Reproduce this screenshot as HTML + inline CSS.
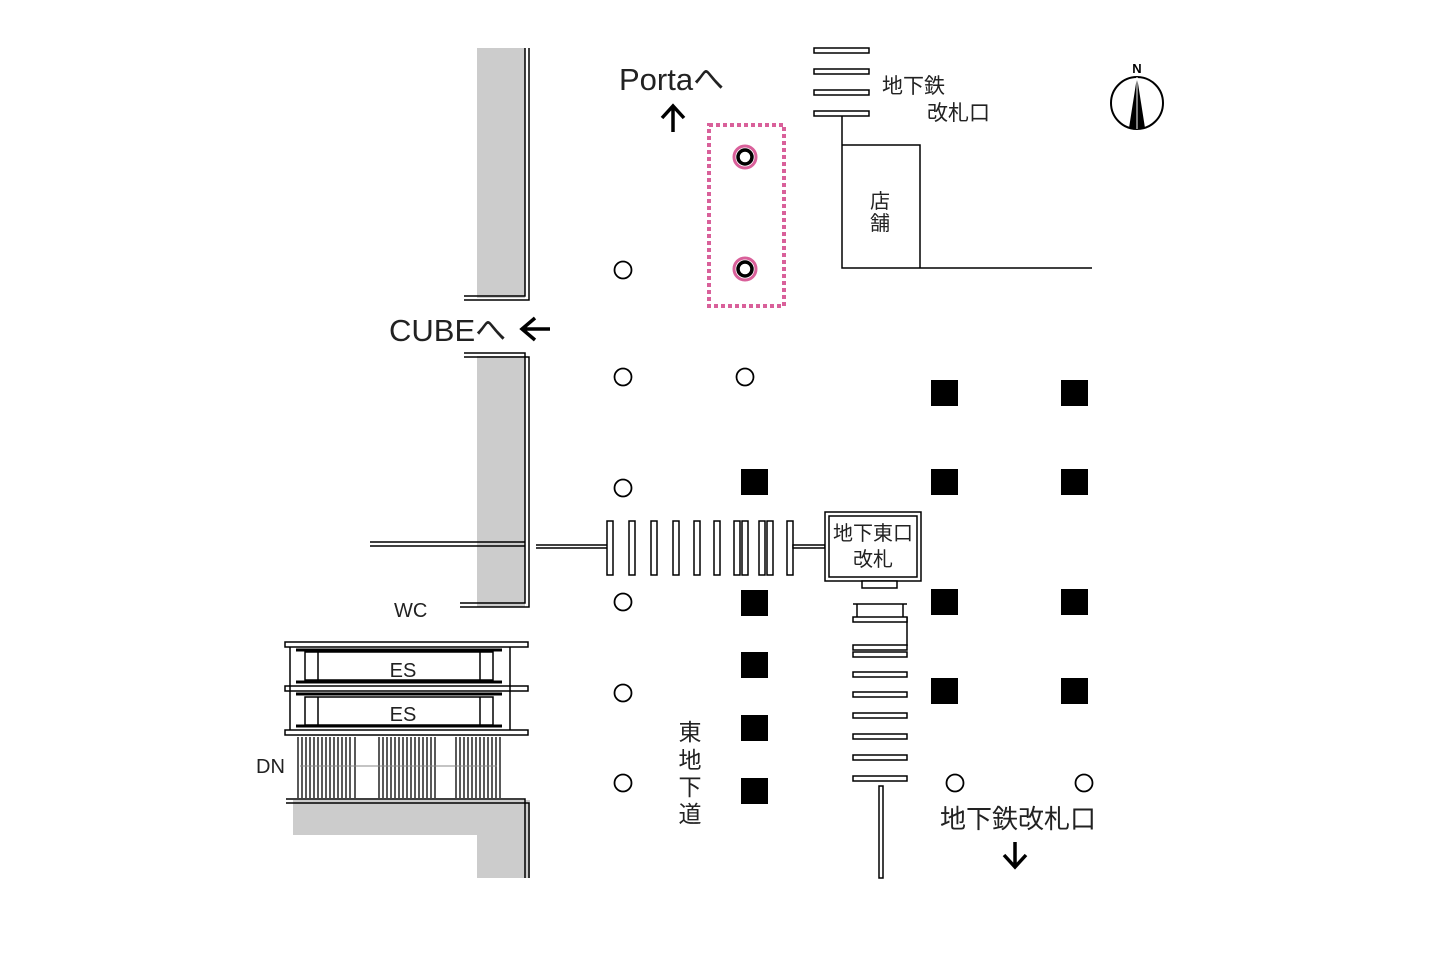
<!DOCTYPE html>
<html><head><meta charset="utf-8"><style>
html,body{margin:0;padding:0;background:#fff;}
svg{display:block;font-family:"Liberation Sans","Noto Sans CJK JP",sans-serif;}
</style></head><body>
<svg width="1432" height="964" viewBox="0 0 1432 964" xmlns="http://www.w3.org/2000/svg">
<rect width="1432" height="964" fill="#fff"/>
<rect x="477" y="48" width="48" height="250" fill="#ccc"/>
<rect x="477" y="356" width="48" height="251" fill="#ccc"/>
<rect x="293" y="800" width="237" height="35" fill="#ccc"/>
<rect x="477" y="800" width="53" height="78" fill="#ccc"/>
<g stroke="#000" stroke-width="1.5" fill="none">
<path d="M525 48V296H464M529 48V300H464"/>
<path d="M464 355H525V605H460M464 359H529V609H460" transform="translate(0,-2)"/>
<path d="M370 542H525M370 546H525"/>
<path d="M536 545H607M536 548H607"/>
<path d="M286 799H525V878M286 803H529V878" />
</g>
<g stroke="#000" stroke-width="1.5" fill="#fff">
<rect x="285" y="642" width="243" height="5"/>
<rect x="285" y="686" width="243" height="5"/>
<rect x="285" y="730" width="243" height="5"/>
<rect x="305" y="652" width="188" height="28"/>
<rect x="305" y="697" width="188" height="28"/>
<line x1="318" y1="652" x2="318" y2="680"/><line x1="480" y1="652" x2="480" y2="680"/>
<line x1="318" y1="697" x2="318" y2="725"/><line x1="480" y1="697" x2="480" y2="725"/>
<line x1="290" y1="647" x2="290" y2="730"/><line x1="510" y1="647" x2="510" y2="730"/>
</g>
<g stroke="#000" stroke-width="3">
<line x1="296" y1="650" x2="502" y2="650"/><line x1="296" y1="682" x2="502" y2="682"/>
<line x1="296" y1="694" x2="502" y2="694"/><line x1="296" y1="726" x2="502" y2="726"/>
</g>
<g stroke="#000" stroke-width="1.3">
<path d="M298 737V798M302 737V798M306 737V798M310 737V798M314 737V798M318 737V798M322 737V798M326 737V798M330 737V798M334 737V798M338 737V798M342 737V798M346 737V798M350 737V798M355 737V798
M379 737V798M383 737V798M387 737V798M391 737V798M395 737V798M399 737V798M403 737V798M407 737V798M411 737V798M415 737V798M419 737V798M423 737V798M427 737V798M431 737V798M435 737V798
M456 737V798M460 737V798M464 737V798M468 737V798M472 737V798M476 737V798M480 737V798M484 737V798M488 737V798M492 737V798M496 737V798M500 737V798"/>
</g>
<line x1="300" y1="766" x2="497" y2="766" stroke="#888" stroke-width="1"/>
<g fill="#222">
<text x="403" y="677" font-size="20" text-anchor="middle">ES</text>
<text x="403" y="721" font-size="20" text-anchor="middle">ES</text>
<text x="256" y="773" font-size="20">DN</text>
<text x="394" y="617" font-size="20">WC</text>
<text x="389" y="341" font-size="31">CUBEへ</text>
<text x="619" y="90" font-size="31">Portaへ</text>
</g>
<path d="M550 329H522M535 318L522 329L535 340" stroke="#000" stroke-width="3.5" fill="none"/>
<path d="M673 132V106M662 118L673 106L684 118" stroke="#000" stroke-width="3.5" fill="none"/>
<g stroke="#000" stroke-width="1.5" fill="#fff">
<rect x="607" y="521" width="6" height="54"/><rect x="629" y="521" width="6" height="54"/>
<rect x="651" y="521" width="6" height="54"/><rect x="673" y="521" width="6" height="54"/>
<rect x="694" y="521" width="6" height="54"/><rect x="714" y="521" width="6" height="54"/>
<rect x="734" y="521" width="6" height="54"/><rect x="742" y="521" width="6" height="54"/>
<rect x="759" y="521" width="6" height="54"/><rect x="767" y="521" width="6" height="54"/>
<rect x="787" y="521" width="6" height="54"/>
<rect x="793" y="545" width="32" height="3"/>
<rect x="825" y="512" width="96" height="69"/>
<rect x="829" y="516" width="88" height="61"/>
<rect x="862" y="581" width="35" height="7"/>
</g>
<g fill="#222">
<text x="873" y="540" font-size="20" text-anchor="middle">地下東口</text>
<text x="873" y="566" font-size="20" text-anchor="middle">改札</text>
</g>
<g stroke="#000" stroke-width="1.5" fill="#fff">
<path d="M857 604V617M903 604V617M853 604H907M907 617V646"/>
<rect x="853" y="617" width="54" height="5"/>
<rect x="853" y="645" width="54" height="5"/>
<rect x="853" y="652" width="54" height="5"/>
<rect x="853" y="672" width="54" height="5"/>
<rect x="853" y="692" width="54" height="5"/>
<rect x="853" y="713" width="54" height="5"/>
<rect x="853" y="734" width="54" height="5"/>
<rect x="853" y="755" width="54" height="5"/>
<rect x="853" y="776" width="54" height="5"/>
<rect x="879" y="786" width="4" height="92"/>
</g>
<g stroke="#000" stroke-width="1.5" fill="#fff">
<rect x="814" y="48" width="55" height="5"/>
<rect x="814" y="69" width="55" height="5"/>
<rect x="814" y="90" width="55" height="5"/>
<rect x="814" y="111" width="55" height="5"/>
<path d="M842 116V268H1092M842 145H920V268" fill="none"/>
</g>
<g fill="#222">
<text x="882" y="93" font-size="21">地下鉄</text>
<text x="927" y="120" font-size="21">改札口</text>
<text x="880" y="208" font-size="20" text-anchor="middle">店</text>
<text x="880" y="230" font-size="20" text-anchor="middle">舗</text>
</g>
<circle cx="1137" cy="103" r="26" fill="#fff" stroke="#000" stroke-width="2"/>
<path d="M1137 77L1129 128L1145 128Z" fill="#000"/>
<line x1="1137" y1="77" x2="1137" y2="129" stroke="#fff" stroke-width="1"/>
<text x="1137" y="73" font-size="13" font-weight="bold" text-anchor="middle">N</text>
<rect x="709" y="125" width="75" height="181" fill="none" stroke="#d9609a" stroke-width="4" stroke-dasharray="4,3"/>
<g fill="#fff" stroke="#000" stroke-width="1.8">
<circle cx="623" cy="270" r="8.5"/><circle cx="623" cy="377" r="8.5"/><circle cx="623" cy="488" r="8.5"/>
<circle cx="623" cy="602" r="8.5"/><circle cx="623" cy="693" r="8.5"/><circle cx="623" cy="783" r="8.5"/>
<circle cx="745" cy="377" r="8.5"/><circle cx="955" cy="783" r="8.5"/><circle cx="1084" cy="783" r="8.5"/>
</g>
<g fill="#fff" stroke="#d9609a" stroke-width="3"><circle cx="745" cy="157" r="11"/><circle cx="745" cy="269" r="11"/></g>
<g fill="#fff" stroke="#000" stroke-width="3.5"><circle cx="745" cy="157" r="7"/><circle cx="745" cy="269" r="7"/></g>
<g fill="#000">
<rect x="741" y="469" width="27" height="26"/><rect x="741" y="590" width="27" height="26"/>
<rect x="741" y="652" width="27" height="26"/><rect x="741" y="715" width="27" height="26"/>
<rect x="741" y="778" width="27" height="26"/>
<rect x="931" y="380" width="27" height="26"/><rect x="931" y="469" width="27" height="26"/>
<rect x="931" y="589" width="27" height="26"/><rect x="931" y="678" width="27" height="26"/>
<rect x="1061" y="380" width="27" height="26"/><rect x="1061" y="469" width="27" height="26"/>
<rect x="1061" y="589" width="27" height="26"/><rect x="1061" y="678" width="27" height="26"/>
</g>
<g font-size="23" text-anchor="middle" fill="#222">
<text x="690" y="740">東</text><text x="690" y="768">地</text><text x="690" y="795">下</text><text x="690" y="822">道</text>
</g>
<text x="940" y="828" font-size="26" fill="#222">地下鉄改札口</text>
<path d="M1015 842V866M1004 855L1015 867L1026 855" stroke="#000" stroke-width="3.5" fill="none"/>
</svg>
</body></html>
